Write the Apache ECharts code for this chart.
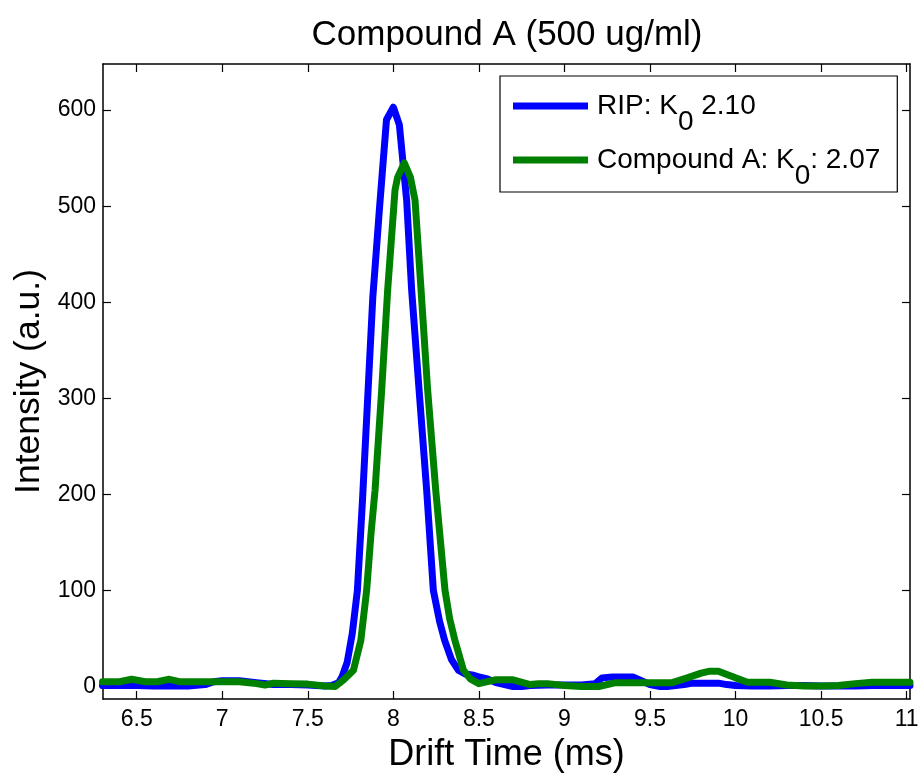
<!DOCTYPE html>
<html>
<head>
<meta charset="utf-8">
<script src="https://cdn.jsdelivr.net/npm/echarts@6/dist/echarts.min.js"></script>
<style>html,body{margin:0;padding:0;background:#fff}#c{width:918px;height:774px}</style>
</head>
<body>
<div id="c"></div>
<script>
// Tick labels
const xTicks = [6.5, 7, 7.5, 8, 8.5, 9, 9.5, 10, 10.5, 11];
const yTicks = [0, 100, 200, 300, 400, 500, 600];

// RIP series (drift time ms, intensity a.u.)
const ripX = [6.30, 6.40, 6.50, 6.60, 6.70, 6.80, 6.90, 6.95, 7.00, 7.10, 7.20, 7.30, 7.40, 7.50, 7.60, 7.64, 7.68,
  7.70, 7.73, 7.76, 7.79, 7.82, 7.85, 7.88, 7.92, 7.96, 8.00, 8.035, 8.078, 8.107, 8.15, 8.195, 8.234, 8.27, 8.30,
  8.34, 8.38, 8.42, 8.46, 8.50, 8.55, 8.60, 8.65, 8.70, 8.75, 8.80, 8.90, 9.00, 9.10, 9.18, 9.22, 9.28, 9.35, 9.40,
  9.45, 9.50, 9.56, 9.60, 9.70, 9.75, 9.90, 9.95, 10.00, 10.10, 10.20, 10.30, 10.40, 10.50, 10.60, 10.70, 10.80,
  10.90, 11.02];
const ripY = [1, 1, 1, 0.5, 0.5, 0.5, 2, 5, 6, 6, 4, 2, 2, 1.5, 0.5, 1, 4,
  10, 25, 55, 100, 195, 300, 405, 500, 590, 603, 585, 506, 413, 310, 204, 100, 68, 48,
  28, 17, 13, 12, 10, 8, 4, 2, 0, 0, 1, 1.5, 1.5, 1.5, 3, 9, 10, 10, 10,
  6, 2, 0, 0, 2, 3.5, 3.5, 2, 1, 0.5, 0.5, 1, 1, 0.5, 0.5, 0.5, 1,
  1, 1];

// Compound A series
const cmpX = [6.30, 6.40, 6.47, 6.55, 6.62, 6.69, 6.75, 6.90, 7.00, 7.10, 7.20, 7.25, 7.30, 7.40, 7.50, 7.60, 7.66,
  7.71, 7.767, 7.81, 7.844, 7.87, 7.893, 7.932, 7.967, 8.01, 8.025, 8.064, 8.10, 8.127, 8.162, 8.20, 8.248, 8.302,
  8.33, 8.36, 8.41, 8.45, 8.50, 8.55, 8.60, 8.70, 8.80, 8.85, 8.90, 9.00, 9.10, 9.20, 9.30, 9.40, 9.50, 9.63, 9.70,
  9.80, 9.85, 9.90, 10.00, 10.07, 10.20, 10.30, 10.40, 10.50, 10.60, 10.70, 10.80, 11.02];
const cmpY = [5, 5, 7.5, 5, 5, 7.5, 5, 5, 5, 5, 3, 1.5, 3.5, 3, 2.5, 0.5, 0,
  7, 17, 48, 100, 160, 204, 309, 413, 517, 530, 545, 530, 506, 413, 310, 204, 100,
  70, 48, 17, 8, 3, 5, 7, 7, 2, 3, 3, 1, 0, 0, 4, 4, 4, 4, 8,
  14, 16, 16, 9, 4.5, 4.5, 1.5, 0.5, 0.5, 1, 3, 4.5, 4.5];

const seriesNames = ['RIP', 'Compound A'];
const legendLabels = {
  'RIP': '{f|RIP: K}{s|0}{a| 2.10}',
  'Compound A': '{f|Compound A: K}{s|0}{a|: 2.07}'
};

const FONT = "'Liberation Sans', Arial, Helvetica, sans-serif";
const chart = echarts.init(document.getElementById('c'), null, {renderer: 'canvas'});

const axisBase = {
  type: 'value',
  axisLine: {show: true, onZero: false, lineStyle: {color: '#000', width: 1.5}},
  splitLine: {show: false}
};

chart.setOption({
  animation: false,
  backgroundColor: '#fff',
  textStyle: {fontFamily: FONT},
  title: {
    text: 'Compound A (500 ug/ml)',
    left: 502, top: 13, textAlign: 'center',
    textStyle: {fontFamily: FONT, fontSize: 35, fontWeight: 'normal', color: '#000'}
  },
  grid: {left: 103, right: 8, top: 64, bottom: 75, containLabel: false, outerBoundsMode: 'none'},
  legend: {
    orient: 'vertical',
    left: 500, top: 76,
    padding: [0, 17, 2, 13],
    itemGap: -6,
    icon: 'rect',
    itemWidth: 75, itemHeight: 7,
    borderColor: '#000', borderWidth: 1.2, backgroundColor: '#fff',
    data: seriesNames,
    formatter: n => legendLabels[n],
    textStyle: {
      fontFamily: FONT, fontSize: 28, color: '#000',
      rich: {
        f: {fontFamily: FONT, fontSize: 28, color: '#000', lineHeight: 22, padding: [16, 0, 16, 4]},
        a: {fontFamily: FONT, fontSize: 28, color: '#000', lineHeight: 22, padding: [16, 0, 16, 0]},
        s: {fontFamily: FONT, fontSize: 28, color: '#000', lineHeight: 22, padding: [32, 0, 0, 0]}
      }
    }
  },
  xAxis: [
    Object.assign({}, axisBase, {
      position: 'bottom', min: 6.303, max: 11.02,
      name: 'Drift Time (ms)', nameLocation: 'middle', nameGap: 38,
      nameTextStyle: {fontFamily: FONT, fontSize: 36, color: '#000'},
      axisTick: {show: true, inside: true, length: 8, customValues: xTicks, lineStyle: {color: '#000', width: 1.2}},
      axisLabel: {show: true, customValues: xTicks, margin: 9, fontFamily: FONT, fontSize: 23, color: '#000'}
    }),
    Object.assign({}, axisBase, {
      position: 'top', min: 6.303, max: 11.02,
      axisTick: {show: true, inside: true, length: 8, customValues: xTicks, lineStyle: {color: '#000', width: 1.2}},
      axisLabel: {show: false}
    })
  ],
  yAxis: [
    Object.assign({}, axisBase, {
      position: 'left', min: -13, max: 648,
      name: 'Intensity (a.u.)', nameLocation: 'middle', nameGap: 55, nameRotate: 90,
      nameTextStyle: {fontFamily: FONT, fontSize: 35.5, color: '#000'},
      axisTick: {show: true, inside: true, length: 8, customValues: yTicks, lineStyle: {color: '#000', width: 1.2}},
      axisLabel: {show: true, customValues: yTicks, margin: 7, fontFamily: FONT, fontSize: 23, color: '#000'}
    }),
    Object.assign({}, axisBase, {
      position: 'right', min: -13, max: 648,
      axisTick: {show: true, inside: true, length: 8, customValues: yTicks, lineStyle: {color: '#000', width: 1.2}},
      axisLabel: {show: false}
    })
  ],
  series: [
    {
      name: 'RIP', type: 'line', xAxisIndex: 0, yAxisIndex: 0,
      data: ripX.map((x, i) => [x, ripY[i]]),
      showSymbol: false, symbol: 'none',
      lineStyle: {color: '#0000ff', width: 7, join: 'round', cap: 'round'},
      itemStyle: {color: '#0000ff'}
    },
    {
      name: 'Compound A', type: 'line', xAxisIndex: 0, yAxisIndex: 0,
      data: cmpX.map((x, i) => [x, cmpY[i]]),
      showSymbol: false, symbol: 'none',
      lineStyle: {color: '#008000', width: 7, join: 'round', cap: 'round'},
      itemStyle: {color: '#008000'}
    }
  ]
});
</script>
</body>
</html>
